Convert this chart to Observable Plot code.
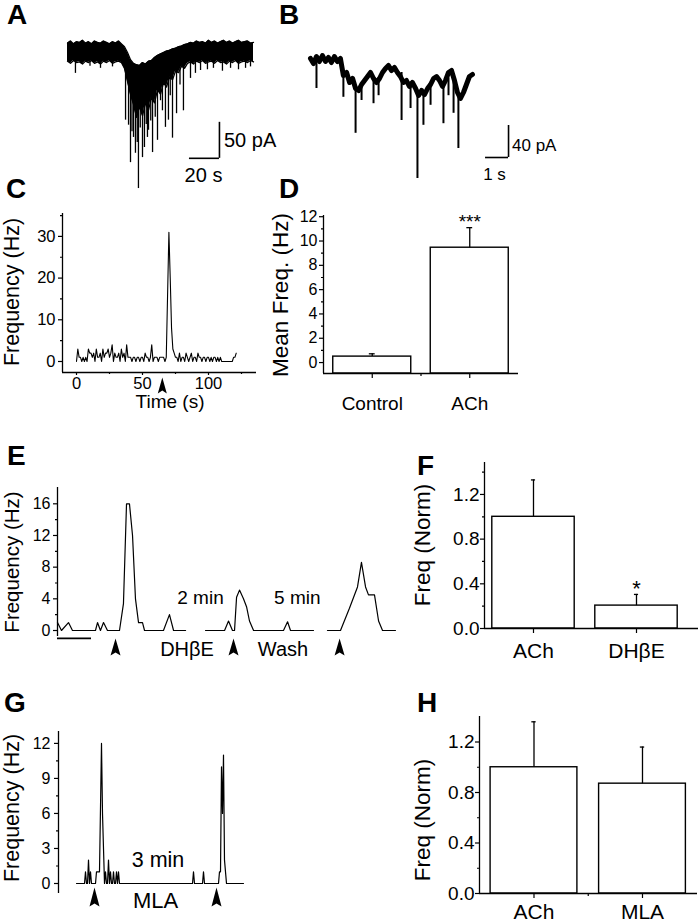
<!DOCTYPE html>
<html><head><meta charset="utf-8">
<script src="https://cdn.jsdelivr.net/npm/d3@7"></script>
<script src="https://cdn.jsdelivr.net/npm/@observablehq/plot@0.6"></script>
<style>
body{margin:0;background:#fff}
#page{position:relative;width:700px;height:924px;overflow:hidden;background:#fff;font-family:"Liberation Sans",Arial,sans-serif;color:#000}
.t{position:absolute;white-space:nowrap;line-height:1;transform-origin:0 0;color:#000}
</style></head><body><div id="page"></div>
<script>
// ---------- DATA ----------
// Panel A: envelope of the current trace (s, pA) and downward events
const aTime = [0,2,4,6,8,10,12,14,16,18,20,22,24,26,28,30,32,34,36,38,40,42,44,46,48,50,52,54,56,58,60,62,64,66,68,70,72,74,76,78,80,82,84,86,88,90,92,94,96,98,100,102,104,106,108,110,112,114,116,118,120,122,124];
const aHigh = [13,16,12,15,14,17,13,15,12,16,14,13,16,14,12,15,13,16,12,8,0,-10,-15,-17,-18,-14,-16,-12,-11,-7,-4,-2,0,2,3,5,6,8,9,11,12,14,13,16,14,15,13,17,14,16,13,15,17,14,16,13,15,17,14,15,16,13,14];
const aLow  = [-12,-15,-11,-14,-13,-16,-12,-14,-11,-15,-13,-16,-12,-14,-11,-15,-13,-12,-14,-22,-40,-58,-72,-90,-75,-88,-70,-80,-62,-70,-52,-58,-42,-48,-34,-38,-26,-28,-19,-22,-15,-13,-16,-12,-14,-11,-15,-13,-12,-15,-11,-14,-13,-16,-12,-14,-11,-15,-13,-12,-14,-11,-13];
const aSpikeT    = [5.3,15,22,30,38.7,40.7,42,43,44,45.3,46.5,47.3,48.5,50,51.3,52.5,53.3,54,55.5,56.7,58.5,60,62,63.3,65.3,67.3,68.5,70,72.7,75,77.3,82,85.3,88.7,93.3,97.3,103.3,108.7,114,118.7,122];
const aSpikeBase = [-10,-10,-10,-10,-20,-35,-50,-55,-60,-70,-70,-70,-70,-70,-65,-65,-60,-60,-55,-55,-50,-45,-40,-40,-35,-30,-30,-25,-20,-15,-15,-10,-10,-10,-10,-10,-10,-10,-10,-10,-10];
const aSpikeTip  = [-29,-19,-22,-20,-94,-101,-153,-110,-118,-140,-125,-189,-105,-146,-132,-100,-118,-108,-95,-139,-90,-122,-67,-81,-104,-94,-60,-119,-85,-45,-81,-36,-29,-25,-24,-22,-26,-22,-24,-22,-20];
const aScale = {t0: 81.3, t1: 101.3, v0: -147, v1: -97}; // 20 s, 50 pA

// Panel B: current trace (s, pA) and events
const bTime = [0,0.13,0.26,0.39,0.52,0.65,0.78,0.91,1.04,1.17,1.30,1.43,1.57,1.70,1.83,1.96,2.09,2.22,2.35,2.48,2.61,2.74,2.87,3.00,3.13,3.26,3.39,3.52,3.65,3.78,3.91,4.04,4.17,4.30,4.43,4.57,4.70,4.83,4.96,5.09,5.22,5.35,5.48,5.61,5.74,5.87,6.00,6.13,6.26,6.39,6.52,6.65,6.78,6.91,7.04];
const bCurr = [2.5,-3.75,5,-1.25,6.25,-1.25,3.75,-2.5,5,-1.25,2.5,-18.75,-15,-27.5,-22.5,-35,-37.5,-30,-25,-20,-15,-22.5,-27.5,-22.5,-15,-10,-6.25,-12.5,-8.75,-15,-20,-27.5,-25,-32.5,-27.5,-35,-43.75,-37.5,-42.5,-35,-30,-22.5,-20,-25,-32.5,-25,-15,-12.5,-25,-40,-47.5,-40,-30,-20,-17.5];
const bSpikeT    = [0.26,1.43,1.96,2.22,2.74,2.96,3.96,4.35,4.65,4.91,5.22,5.78,6.0,6.22,6.43];
const bSpikeBase = [5,-18,-35,-30,-22,-22,-15,-27,-40,-42,-30,-30,-22,-20,-40];
const bSpikeTip  = [-35,-46,-91,-50,-54,-44,-75,-60,-147.5,-81,-56,-79,-44,-66,-110];
const bScale = {t0: 7.61, t1: 8.61, v0: -121.25, v1: -81.25}; // 1 s, 40 pA

// Panel C: frequency per 1-s bin (Hz), t = 0..121 s
const cFreq = [0,3,1,1,0,1,0,1,0,3, 2,2,1,2,0,3,1,1,2,0, 3,1,2,2,3,1,2,4,0,2, 1,1,2,0,3,1,2,0,4,1,
  1,1,0,1,1,0,1,1,0,1, 1,0,2,1,1,0,1,4,0,1, 1,1,0,1,1,1,1,0,1,16, 31,20,8,3,2,1,1,0,2,0,
  1,1,0,2,1,0,1,2,0,1, 1,0,2,1,1,0,1,1,0,1, 1,0,1,0,1,1,0,1,0,1, 0,0,0,0,0,0,0,0,0,1, 1,2];
const cArrow = [65];
const cYTicks = [0,10,20,30], cYMinor = [5,15,25,35];
const cXTicks = [0,50,100], cXMinor = [25,75,125];

// Panel D
const dCats = ["Control","ACh"], dMean = [0.49,9.45], dErr = [0.23,1.65];
const dYTicks = [0,2,4,6,8,10,12], dYMinor = [1,3,5,7,9,11];

// Panel E: three trace segments (s, Hz)
const e1T = [0,3.5,9.7,13.2,33.5,35.3,37.9,40.6,44.1,54.7,58.2,60.9,63.5,66.2,68.8,71.5,75,76.8,93.5,98.8,102.4,113];
const e1V = [1,0,1,0,0,1,0,1,0,0,3.4,16,16,12,4,1,1,0,0,2,0,0];
const e2T = [130.6,147.4,150.9,154.4,156.2,158,160.6,164.1,166.8,169.4,173,199.4,203,205.6,225.9];
const e2V = [0,0,1.2,0,0,4.2,5.1,4,3,1.2,0,0,1.1,0,0];
const e3T = [238.2,249.7,257.6,264.7,268.2,271.8,274.4,279.7,283.3,286.8,298.2];
const e3V = [0,0,2.8,5.5,8.6,5.5,4.5,4.5,1.2,0,0];
const eArrow = [51.2,155.3,248.9];
const eYTicks = [0,4,8,12,16], eYMinor = [2,6,10,14];

// Panel F
const fCats = ["ACh","DHβE"], fMean = [1.0,0.205], fErr = [0.33,0.10];
// Panel G
const gT = [0,8,9,10,11,12,13,14,15,19,20,23,25,26,28,29,30,31,32,33,34,35,36,37,38,39,40,41,42,43,116,117,118,126,127,128,142,143,144,145,146,147,148,150,167];
const gV = [0,0,1,0,0,2,0,1,0,0,1,1,12,6,0,1,0,0,2,0,1,0,0,1,0,0,1,0,1,0,0,1,0,0,1,0,0,1,1,10,6,11,2,0,0];
const gArrow = [18,140];
const gYTicks = [0,3,6,9,12], gYMinor = [1.5,4.5,7.5,10.5];
// Panel H
const hCats = ["ACh","MLA"], hMean = [1.0,0.87], hErr = [0.36,0.29];
const normTicks = [0,0.4,0.8,1.2], normMinor = [0.2,0.6,1.0,1.4];

// ---------- HELPERS ----------
const page = document.getElementById("page");
const FONT = '"Liberation Sans", Arial, Helvetica, sans-serif';
const style = {fontFamily: FONT, fontSize: "16px", background: "transparent", overflow: "visible", color: "#000"};
function mount(svg, left, top) {
  svg.style.position = "absolute"; svg.style.left = left + "px"; svg.style.top = top + "px";
  svg.style.overflow = "visible"; svg.style.background = "transparent";
  page.appendChild(svg);
}
function label(s, x, y, o = {}) {
  const {size = 19, anchor = "middle", bold = false, rotate = false} = o;
  const el = document.createElement("span");
  el.className = "t"; el.textContent = s;
  el.style.left = x + "px"; el.style.top = y + "px"; el.style.fontSize = size + "px";
  if (bold) el.style.fontWeight = "bold";
  const tx = anchor === "middle" ? "-50%" : anchor === "end" ? "-100%" : "0";
  el.style.transform = (rotate ? "rotate(-90deg) " : "") + `translate(${tx}, -0.8465em)`;
  page.appendChild(el);
}
function arrowSym(w, h, notch) {
  return {draw(ctx) { ctx.moveTo(0, -h / 2); ctx.lineTo(w / 2, h / 2); ctx.lineTo(0, h / 2 - notch); ctx.lineTo(-w / 2, h / 2); ctx.closePath(); }};
}
function yAxis(major, minor, fmt, fs, pad = 3) {
  return [
    Plot.axisY(major, {tickSize: 4, tickPadding: pad, fontSize: fs, tickFormat: fmt, label: null, strokeWidth: 1.2}),
    Plot.axisY(minor, {tickSize: 2, tickFormat: () => "", label: null, strokeWidth: 1.2})
  ];
}
function bars(cats, means, errs, base, cap) {
  const rows = cats.map((c, i) => ({i, m: means[i], e: errs[i]}));
  return [
    Plot.rect(rows, {x1: d => d.i - 0.4, x2: d => d.i + 0.4, y1: () => base, y2: "m", fill: "#fff", stroke: "#000", strokeWidth: 1.4}),
    Plot.ruleX(rows, {x: "i", y1: "m", y2: d => d.m + d.e, stroke: "#000", strokeWidth: 1.3}),
    Plot.ruleY(rows, {y: d => d.m + d.e, x1: d => d.i - cap, x2: d => d.i + cap, stroke: "#000", strokeWidth: 1.3})
  ];
}
const f1 = d3.format(".1f");

// ---------- PANEL A ----------
{
  const env = aTime.map((t, i) => ({t, hi: aHigh[i], lo: aLow[i]}));
  const sp = aSpikeT.map((t, i) => ({t, b: aSpikeBase[i], tip: aSpikeTip[i]}));
  mount(Plot.plot({
    width: 230, height: 170, margin: 0, style,
    x: {domain: [-4.667, 148.667], axis: null}, y: {domain: [-205.6, 30.56], axis: null},
    marks: [
      Plot.areaY(env, {x: "t", y1: "lo", y2: "hi", fill: "#000"}),
      Plot.lineY(env, {x: "t", y: "hi", stroke: "#000", strokeWidth: 1.3}),
      Plot.lineY(env, {x: "t", y: "lo", stroke: "#000", strokeWidth: 1.3}),
      Plot.ruleX(sp, {x: "t", y1: "b", y2: "tip", stroke: "#000", strokeWidth: 1.3}),
      Plot.ruleX([aScale], {x: "t1", y1: "v0", y2: "v1", stroke: "#000", strokeWidth: 1.6}),
      Plot.ruleY([aScale], {y: "v0", x1: "t0", x2: "t1", stroke: "#000", strokeWidth: 1.6})
    ]
  }), 60, 30);
}
// ---------- PANEL B ----------
{
  const tr = bTime.map((t, i) => ({t, v: bCurr[i]}));
  const sp = bSpikeT.map((t, i) => ({t, b: bSpikeBase[i], tip: bSpikeTip[i]}));
  mount(Plot.plot({
    width: 270, height: 155, margin: 0, style,
    x: {domain: [-0.4348, 11.304], axis: null}, y: {domain: [-162.5, 31.25], axis: null},
    marks: [
      Plot.line(tr, {x: "t", y: "v", stroke: "#000", strokeWidth: 5, strokeLinejoin: "round"}),
      Plot.ruleX(sp, {x: "t", y1: "b", y2: "tip", stroke: "#000", strokeWidth: 2}),
      Plot.ruleX([bScale], {x: "t1", y1: "v0", y2: "v1", stroke: "#000", strokeWidth: 1.6}),
      Plot.ruleY([bScale], {y: "v0", x1: "t0", x2: "t1", stroke: "#000", strokeWidth: 1.6})
    ]
  }), 300, 35);
}
// ---------- PANEL C ----------
{
  const X = [-10.606, 136.36], Y = [-2.64, 35.49];
  mount(Plot.plot({
    width: 270, height: 210, marginLeft: 62, marginTop: 8, marginRight: 14, marginBottom: 43, style,
    x: {domain: X}, y: {domain: Y},
    marks: [
      ...yAxis(cYTicks, cYMinor, d3.format("d"), 16.5),
      Plot.axisX(cXTicks, {tickSize: 3, tickPadding: 2, fontSize: 16.5, tickFormat: d3.format("d"), label: null, strokeWidth: 1.2}),
      Plot.axisX(cXMinor, {tickSize: 2, tickFormat: () => "", label: null, strokeWidth: 1.2}),
      Plot.ruleX([X[0]], {stroke: "#000", strokeWidth: 1.3}),
      Plot.ruleY([Y[0]], {stroke: "#000", strokeWidth: 1.3}),
      Plot.lineY(cFreq, {stroke: "#000", strokeWidth: 1.1}),
      Plot.dot(cArrow.map(t => ({t, v: Y[0]})), {x: "t", y: "v", symbol: arrowSym(9, 16, 3), r: 5, fill: "#000", stroke: "none", dy: 13})
    ]
  }), 0, 205);
}
// ---------- PANEL D ----------
{
  const X = [-0.5, 1.5], Y = [-0.9, 12.1];
  mount(Plot.plot({
    width: 250, height: 215, marginLeft: 43, marginTop: 10, marginRight: 12, marginBottom: 47, style,
    x: {domain: X}, y: {domain: Y},
    marks: [
      ...yAxis(dYTicks, dYMinor, d3.format("d"), 16, 2),
      Plot.axisX([0, 1], {tickSize: 5, tickPadding: 18, fontSize: 19, tickFormat: i => dCats[i], label: null, strokeWidth: 1.2}),
      Plot.axisX([0.5], {tickSize: 3, tickFormat: () => "", label: null, strokeWidth: 1.2}),
      ...bars(dCats, dMean, dErr, Y[0], 0.03),
      Plot.ruleX([X[0]], {stroke: "#000", strokeWidth: 1.3}),
      Plot.ruleY([Y[0]], {stroke: "#000", strokeWidth: 1.3}),
      Plot.text([{i: 1, y: dMean[1] + dErr[1]}], {x: "i", y: "y", text: () => "***", fontSize: 19, lineAnchor: "bottom", dy: 0})
    ]
  }), 280, 205);
}
// ---------- PANEL E ----------
{
  const X = [0, 300], Y = [-0.758, 18.06];
  const rows = [
    ...e1T.map((t, i) => ({seg: 1, t, v: e1V[i]})),
    ...e2T.map((t, i) => ({seg: 2, t, v: e2V[i]})),
    ...e3T.map((t, i) => ({seg: 3, t, v: e3V[i]}))
  ];
  const sbar = [{t0: 0, t1: 30, v: -1.0}];
  mount(Plot.plot({
    width: 400, height: 185, marginLeft: 57, marginTop: 7, marginRight: 3, marginBottom: 29, style,
    x: {domain: X, axis: null}, y: {domain: Y},
    marks: [
      ...yAxis(eYTicks, eYMinor, d3.format("d"), 16),
      Plot.ruleX([X[0]], {stroke: "#000", strokeWidth: 1.3}),
      Plot.line(rows, {x: "t", y: "v", z: "seg", stroke: "#000", strokeWidth: 1.2}),
      Plot.ruleY(sbar, {y: "v", x1: "t0", x2: "t1", stroke: "#000", strokeWidth: 1.6}),
      Plot.dot(eArrow.map(t => ({t, v: Y[0]})), {x: "t", y: "v", symbol: arrowSym(10, 17, 3), r: 5, fill: "#000", stroke: "none", dy: 10.5})
    ]
  }), 0, 480);
}
// ---------- PANEL F ----------
{
  const X = [-0.4757, 1.602], Y = [0, 1.486];
  mount(Plot.plot({
    width: 320, height: 215, marginLeft: 104, marginTop: 7, marginRight: 2, marginBottom: 42, style,
    x: {domain: X}, y: {domain: Y},
    marks: [
      ...yAxis(normTicks, normMinor, f1, 19, 1),
      Plot.axisX([0, 1], {tickSize: 5, tickPadding: 10, fontSize: 21, tickFormat: i => fCats[i], label: null, strokeWidth: 1.2}),
      ...bars(fCats, fMean, fErr, 0, 0.02),
      Plot.ruleX([X[0]], {stroke: "#000", strokeWidth: 1.3}),
      Plot.ruleY([Y[0]], {stroke: "#000", strokeWidth: 1.3}),
      Plot.text([{i: 1, y: fMean[1] + fErr[1]}], {x: "i", y: "y", text: () => "*", fontSize: 22, lineAnchor: "bottom", dy: 2})
    ]
  }), 380, 455);
}
// ---------- PANEL G ----------
{
  const X = [-18, 184], Y = [-0.857, 13.02];
  mount(Plot.plot({
    width: 260, height: 204, marginLeft: 58, marginTop: 11, marginRight: 0, marginBottom: 31, style,
    x: {domain: X, axis: null}, y: {domain: Y},
    marks: [
      ...yAxis(gYTicks, gYMinor, d3.format("d"), 16, 4),
      Plot.ruleX([X[0]], {stroke: "#000", strokeWidth: 1.3}),
      Plot.line(gT.map((t, i) => ({t, v: gV[i]})), {x: "t", y: "v", stroke: "#000", strokeWidth: 1.2}),
      Plot.dot(gArrow.map(t => ({t, v: Y[0]})), {x: "t", y: "v", symbol: arrowSym(10, 19, 3), r: 5, fill: "#000", stroke: "none", dy: 3.5})
    ]
  }), 0, 720);
}
// ---------- PANEL H ----------
{
  const X = [-0.5023, 1.507], Y = [0, 1.402];
  mount(Plot.plot({
    width: 320, height: 216, marginLeft: 99, marginTop: 8, marginRight: 3, marginBottom: 31, style,
    x: {domain: X}, y: {domain: Y},
    marks: [
      ...yAxis(normTicks, normMinor.slice(0, 3), f1, 19, 1),
      Plot.axisX([0, 1], {tickSize: 5, tickPadding: 6, fontSize: 21, tickFormat: i => hCats[i], label: null, strokeWidth: 1.2}),
      Plot.axisX([0.5], {tickSize: 3, tickFormat: () => "", label: null, strokeWidth: 1.2}),
      ...bars(hCats, hMean, hErr, 0, 0.02),
      Plot.ruleX([X[0]], {stroke: "#000", strokeWidth: 1.3}),
      Plot.ruleY([Y[0]], {stroke: "#000", strokeWidth: 1.3})
    ]
  }), 380, 708);
}

// ---------- TEXT ----------
[["A",7,25],["B",279,25],["C",6,199],["D",279,199],["E",7,466],["F",417,476],["G",4,713],["H",417,713]]
  .forEach(([s,x,y]) => label(s, x, y, {size: 28, bold: true, anchor: "start"}));
label("Frequency (Hz)", 20, 292, {size: 21.5, rotate: true});
label("Mean Freq. (Hz)", 289, 295, {size: 22.5, rotate: true});
label("Frequency (Hz)", 19, 562, {size: 20.5, rotate: true});
label("Freq (Norm)", 431, 545, {size: 22.5, rotate: true});
label("Frequency (Hz)", 20, 808, {size: 21.5, rotate: true});
label("Freq (Norm)", 431, 820, {size: 22.5, rotate: true});
label("Time (s)", 170, 408, {size: 19});
label("50 pA", 224, 147, {size: 20, anchor: "start"});
label("20 s", 203.5, 182, {size: 20});
label("40 pA", 512, 150.5, {size: 17, anchor: "start"});
label("1 s", 494.5, 180, {size: 17});
label("2 min", 200.5, 603.5, {size: 19});
label("5 min", 297.3, 603.5, {size: 19});
label("DHβE", 187, 656, {size: 20});
label("Wash", 283, 656, {size: 20});
label("3 min", 158, 868, {size: 21.5});
label("MLA", 155.5, 909, {size: 22});
</script></body></html>
